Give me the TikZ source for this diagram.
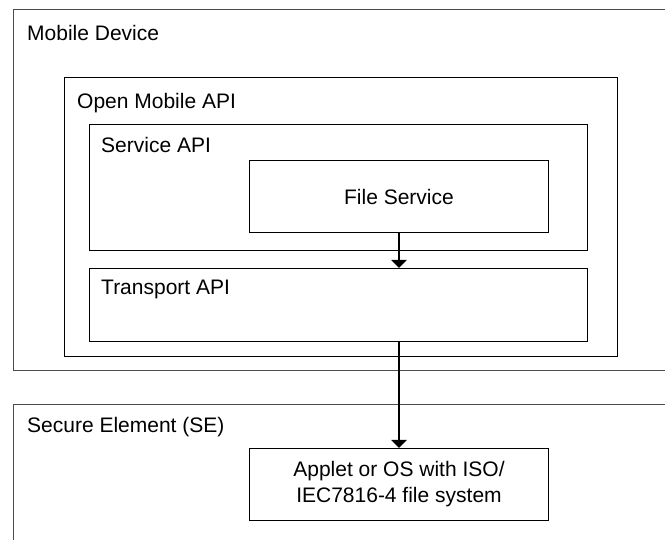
\documentclass[tikz,border=0pt]{standalone}
\usepackage{fontspec}
\setmainfont{Liberation Sans}
\usetikzlibrary{arrows.meta}

\begin{document}
\begin{tikzpicture}[x=1pt, y=-1pt,
  framebox/.style={draw=black!70, line width=1.1pt, anchor=north west, inner sep=0pt},
  apibox/.style={draw=black, line width=1pt, anchor=north west, inner sep=0pt, align=center},
  title/.style={anchor=west, inner sep=0pt},
  link/.style={line width=2pt, -{Triangle[width=15pt,length=8pt]}}]
\fontsize{21}{26}\selectfont
\useasboundingbox (0,0) rectangle (665,540);
\clip (0,0) rectangle (665,540);

% outer frames, cut off on the right
\node[framebox, minimum width=700pt, minimum height=361pt] (mobile) at (13,9) {};
\node[framebox, minimum width=700pt, minimum height=200pt] (se) at (13,404) {};

\node[apibox, minimum width=553pt, minimum height=279pt] (openapi) at (64,77) {};
\node[apibox, minimum width=498pt, minimum height=126pt] (serviceapi) at (89,124) {};
\node[apibox, minimum width=498pt, minimum height=73pt] (transport) at (89,268) {};
\node[apibox, minimum width=299pt, minimum height=72pt] (fileservice) at (249,160) {File Service};
\node[apibox, minimum width=299pt, minimum height=72pt] (applet) at (249,448) {Applet or OS with ISO/\\IEC7816-4 file system};

\node[title] (mobiletitle) at ([xshift=14pt, yshift=-24pt]mobile.north west) {Mobile Device};
\node[title] (openapititle) at ([xshift=13pt, yshift=-26pt]openapi.north west) {Open Mobile API};
\node[title] (serviceapititle) at ([xshift=12pt, yshift=-21pt]serviceapi.north west) {Service API};
\node[title] (transporttitle) at ([xshift=12pt, yshift=-21pt]transport.north west) {Transport API};
\node[title] (setitle) at ([xshift=14pt, yshift=-23pt]se.north west) {Secure Element (SE)};

\draw[link] (fileservice.south) -- (fileservice.south |- transport.north);
\draw[link] (applet.north |- transport.south) -- (applet.north);

\end{tikzpicture}
\end{document}
